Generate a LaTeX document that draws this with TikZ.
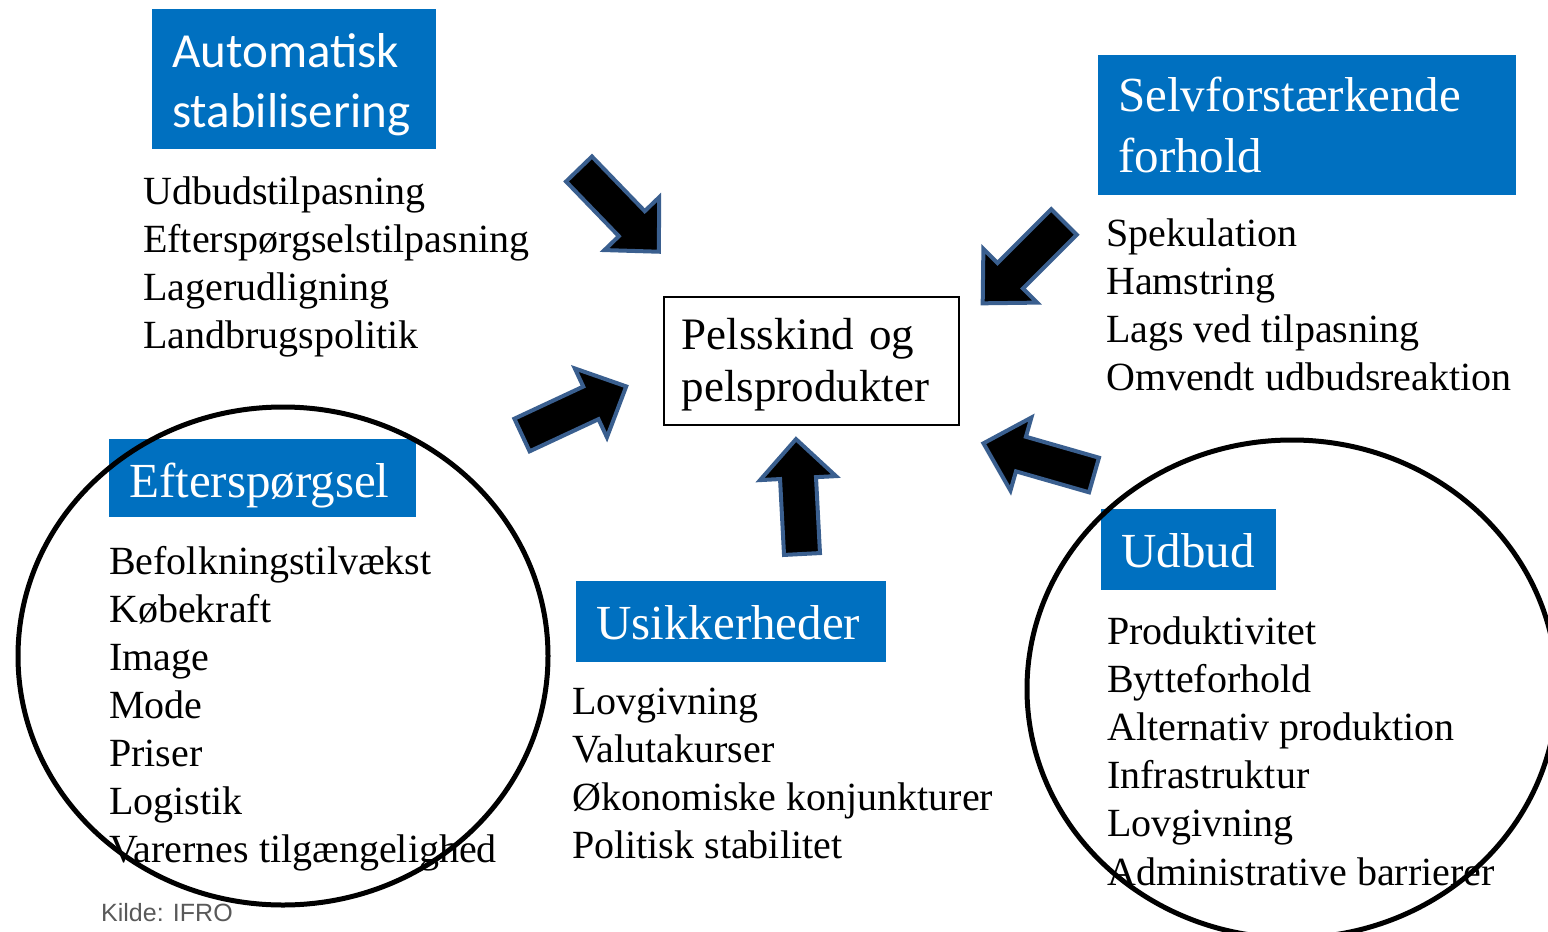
\documentclass[tikz,border=0pt]{standalone}
\usepackage{fontspec}
\setmainfont{Liberation Serif}
\newfontfamily\calibrifont{Carlito}
\newfontfamily\arialfont{Liberation Sans}
\usetikzlibrary{positioning}
\definecolor{hdblue}{HTML}{0070C0}
\definecolor{arrowrim}{HTML}{3A5F8F}
\tikzset{
  header/.style={fill=hdblue,text=white,anchor=base west,inner xsep=20pt,inner ysep=0pt,align=left,
    font=\fontsize{49}{61}\selectfont},
  item/.style={anchor=base west,inner sep=0pt,font=\fontsize{40}{48}\selectfont},
  ring/.style={line width=5pt},
  blockarrow/.pic={\draw[fill=black,draw=arrowrim,line width=4pt,line join=miter]
    (0,-18)--(76,-18)--(76,-38)--(115,0)--(76,38)--(76,18)--(0,18)--cycle;}
}
\begin{document}
\begin{tikzpicture}[x=1pt,y=-1pt]
\useasboundingbox (0,0) rectangle (1548,932);
% centre
\node[draw,line width=1.5pt,anchor=base west,inner xsep=18pt,inner ysep=0pt,align=left,
  text width=259pt,text height=52pt,text depth=76pt,font=\fontsize{45}{52}\selectfont]
  (pels) at (663,349) {Pelsskind og\\pelsprodukter};
% headers
\node[header,font=\calibrifont\fontsize{49}{60}\selectfont,text width=244pt,text height=58pt,text depth=82pt]
  (auto) at (152,67) {Automatisk\\stabilisering};
\node[header,text width=378pt,text height=56pt,text depth=84pt]
  (selv) at (1098,111) {Selvforstærkende\\forhold};
\node[header,text width=267pt,text height=58pt,text depth=20pt]
  (eft) at (109,497) {Efterspørgsel};
\node[header,text width=270pt,text height=58pt,text depth=23pt]
  (usik) at (576,639) {Usikkerheder};
\node[header,text width=135pt,text height=58pt,text depth=23pt]
  (udb) at (1101,567) {Udbud};
% lists
\foreach \t [count=\i] in {Udbudstilpasning,Efterspørgselstilpasning,Lagerudligning,Landbrugspolitik}
  \node[item] (auto\i) at (143,{204+48*(\i-1)}) {\t};
\foreach \t [count=\i] in {Spekulation,Hamstring,Lags ved tilpasning,Omvendt udbudsreaktion}
  \node[item] (selv\i) at (1106,{246+48.3*(\i-1)}) {\t};
\foreach \t [count=\i] in {Befolkningstilvækst,Købekraft,Image,Mode,Priser,Logistik,Varernes tilgængelighed}
  \node[item] (eft\i) at (109,{574+48*(\i-1)}) {\t};
\foreach \t [count=\i] in {Lovgivning,Valutakurser,Økonomiske konjunkturer,Politisk stabilitet}
  \node[item] (usik\i) at (572,{714+48*(\i-1)}) {\t};
\foreach \t [count=\i] in {Produktivitet,Bytteforhold,Alternativ produktion,Infrastruktur,Lovgivning,Administrative barrierer}
  \node[item] (udb\i) at (1107,{644+48.2*(\i-1)}) {\t};
% block arrows
\foreach \x/\y/\a in {579/169/-46,1064/222/225,522/435/25,802/554/93,1094/475/164}
  \pic[rotate=\a] at (\x,\y) {blockarrow};
% rings
\draw[ring] (283,656) ellipse [x radius=265,y radius=249];
\draw[ring] (1292,689) ellipse [x radius=265,y radius=249];
\node[anchor=base west,inner sep=0pt,text=black!65,font=\arialfont\fontsize{25}{30}\selectfont]
  (kilde) at (101,921) {Kilde: IFRO};
\end{tikzpicture}
\end{document}
